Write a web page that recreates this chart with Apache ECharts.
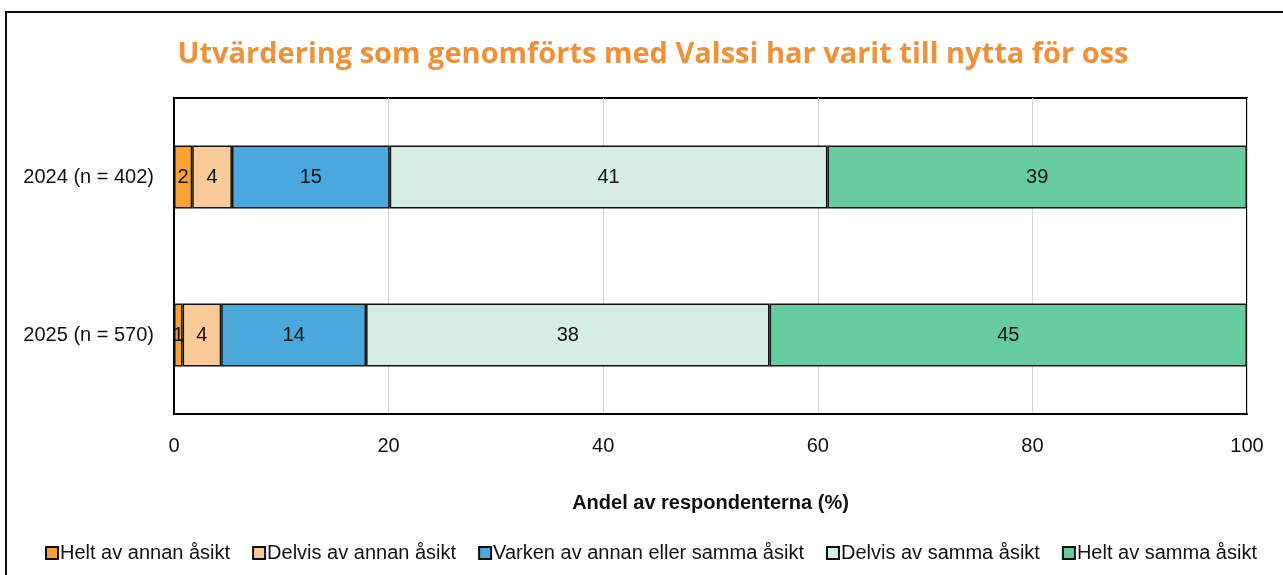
<!DOCTYPE html>
<html lang="sv">
<head>
    <meta charset="UTF-8">
    <title>Valssi</title>
    <script src="https://cdn.jsdelivr.net/npm/echarts@6.0.0/dist/echarts.min.js"></script>
    <style>
        * { margin: 0; padding: 0; }
        body { background: #fff; }
        #chart { width: 1283px; height: 575px; }
    </style>
</head>
<body>
    <div id="chart"></div>
    <script>
        const categories = ['2024 (n = 402)', '2025 (n = 570)'];
        const seriesNames = [
            'Helt av annan åsikt',
            'Delvis av annan åsikt',
            'Varken av annan eller samma åsikt',
            'Delvis av samma åsikt',
            'Helt av samma åsikt'
        ];
        const heltAnnan = [1.7, 0.8];
        const delvisAnnan = [3.7, 3.6];
        const varken = [14.7, 13.5];
        const delvisSamma = [40.8, 37.6];
        const heltSamma = [39.1, 44.5];
        const xTicks = [0, 20, 40, 60, 80, 100];
        const colors = ['#F7A233', '#F9CB98', '#4BA8DC', '#D5EEE1', '#66CC9F'];

        const font = '"Liberation Sans", Arial, sans-serif';
        const values = [heltAnnan, delvisAnnan, varken, delvisSamma, heltSamma];

        const chart = echarts.init(document.getElementById('chart'), null, { renderer: 'canvas' });

        const option = {
            animation: false,
            title: {
                text: 'Utvärdering som genomförts med Valssi har varit till nytta för oss',
                left: 648,
                textAlign: 'center',
                top: 35,
                textStyle: { color: '#EE9138', fontSize: 29, fontWeight: 'bold', fontFamily: '"Open Sans", sans-serif' }
            },
            graphic: [{
                type: 'rect',
                shape: { x: 6, y: 12, width: 1300, height: 600 },
                style: { fill: 'none', stroke: '#111', lineWidth: 2 },
                silent: true
            }],
            legend: {
                left: 40,
                top: 538,
                itemWidth: 12,
                itemHeight: 12,
                itemGap: 22,
                icon: 'rect',
                data: seriesNames,
                textStyle: { fontSize: 20, color: '#111', fontFamily: font, padding: [0, 0, 0, -3] }
            },
            grid: {
                left: 174, right: 36, top: 98, bottom: 161,
                show: true, borderColor: '#000', borderWidth: 2
            },
            xAxis: {
                type: 'value',
                min: xTicks[0],
                max: xTicks[xTicks.length - 1],
                interval: 20,
                name: 'Andel av respondenterna (%)',
                nameLocation: 'middle',
                nameGap: 79,
                nameTextStyle: { fontSize: 20, fontWeight: 'bold', color: '#111', fontFamily: font },
                axisLine: { show: true, lineStyle: { color: '#000', width: 2 } },
                axisTick: { show: false },
                axisLabel: { fontSize: 20, color: '#111', margin: 22, fontFamily: font },
                splitLine: { show: true, lineStyle: { color: '#D9D4D0', width: 1 } }
            },
            yAxis: {
                type: 'category',
                inverse: true,
                data: categories,
                axisLine: { show: true, lineStyle: { color: '#000', width: 2 } },
                axisTick: { show: false },
                axisLabel: { fontSize: 20, color: '#111', margin: 20, fontFamily: font }
            },
            series: seriesNames.map((name, i) => ({
                name: name,
                type: 'bar',
                stack: 'total',
                barWidth: '40%',
                data: values[i],
                itemStyle: { color: colors[i], borderColor: '#111', borderWidth: 1.5 },
                label: {
                    show: true,
                    position: 'inside',
                    fontSize: 20,
                    color: '#111',
                    fontFamily: font,
                    formatter: p => Math.round(p.value)
                }
            }))
        };

        chart.setOption(option);
    </script>
</body>
</html>
